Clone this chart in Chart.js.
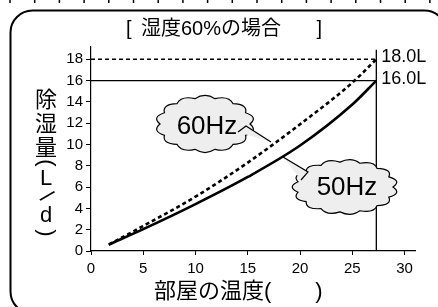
<!DOCTYPE html>
<html>
<head>
<meta charset="utf-8">
<script src="https://cdn.jsdelivr.net/npm/chart.js@4/dist/chart.umd.min.js"></script>
<style>
    body { margin: 0; background: #fff; }
    canvas { display: block; }
</style>
</head>
<body>
<canvas id="humid-chart" width="438" height="307"></canvas>
<script>
// room temperature (deg C) and dehumidifying amount (L/day)
var tempX = [1.7, 5, 10, 15, 20, 25, 27.3];
var dehum50 = [0.6, 2.05, 4.4, 6.95, 9.9, 13.75, 16.0];
var dehum60 = [0.6, 2.35, 5.1, 8.3, 11.9, 15.8, 18.0];

var maxTemp = 27.3;
var maxLines = [16, 18];
var maxLabels = ["16.0L", "18.0L"];

var xTicks = [0, 5, 10, 15, 20, 25, 30];
var yTicks = [0, 2, 4, 6, 8, 10, 12, 14, 16, 18];

var titleText = "湿度60%の場合";
var xTitle = "部屋の温度(　　)";
var yTitle = ["除", "湿", "量", "(", "L", "/", "d", ")"];

var FONT = '"Liberation Sans", Arial, "Noto Sans CJK JP"';

function toPoints(xs, ys) {
    return xs.map(function (x, i) { return { x: x, y: ys[i] }; });
}

function cloud(ctx, cx, cy, rx, ry, n, tail) {
    var pts = [];
    for (var i = 0; i <= n; i++) {
        var a = i / n * Math.PI * 2;
        pts.push([cx + rx * Math.cos(a), cy + ry * Math.sin(a)]);
    }
    ctx.save();
    ctx.lineWidth = 1.2;
    ctx.strokeStyle = "#000";
    ctx.fillStyle = "#eeeeee";
    ctx.beginPath();
    ctx.moveTo(pts[0][0], pts[0][1]);
    for (var j = 0; j < n; j++) {
        var am = (j + 0.5) / n * Math.PI * 2;
        var k = 1.22;
        ctx.quadraticCurveTo(cx + rx * k * Math.cos(am), cy + ry * k * Math.sin(am), pts[j + 1][0], pts[j + 1][1]);
    }
    ctx.closePath();
    ctx.fill();
    ctx.stroke();
    // tail
    ctx.beginPath();
    ctx.moveTo(tail[0][0], tail[0][1]);
    ctx.lineTo(tail[1][0], tail[1][1]);
    ctx.lineTo(tail[2][0], tail[2][1]);
    ctx.closePath();
    ctx.fill();
    ctx.beginPath();
    ctx.moveTo(tail[0][0], tail[0][1]);
    ctx.lineTo(tail[1][0], tail[1][1]);
    ctx.lineTo(tail[2][0], tail[2][1]);
    ctx.stroke();
    ctx.restore();
}

var decorations = {
    id: "decorations",
    beforeDraw: function (chart) {
        var ctx = chart.ctx;
        ctx.save();
        ctx.fillStyle = "#fff";
        ctx.fillRect(0, 0, chart.width, chart.height);
        // dotted marks along the top edge
        ctx.strokeStyle = "#000";
        ctx.lineWidth = 1.5;
        for (var x = 10; x < chart.width; x += 24.7) {
            ctx.beginPath();
            ctx.moveTo(x, 0);
            ctx.lineTo(x, 3);
            ctx.stroke();
        }
        // rounded frame
        ctx.lineWidth = 2;
        ctx.beginPath();
        ctx.roundRect(10.5, 10.5, 436, 303, 22);
        ctx.stroke();
        ctx.restore();
    },
    afterDatasetsDraw: function (chart) {
        var ctx = chart.ctx;
        var xs = chart.scales.x, ys = chart.scales.y;
        ctx.save();
        ctx.fillStyle = "#000";

        // title
        ctx.font = "20px " + FONT;
        ctx.textBaseline = "middle";
        ctx.textAlign = "left";
        ctx.fillText("[", 126, 29);
        ctx.fillText(titleText, 141, 29);
        ctx.textAlign = "right";
        ctx.fillText("]", 322, 29);

        // max value labels
        ctx.textAlign = "left";
        ctx.font = "18px " + FONT;
        maxLines.forEach(function (v, i) {
            ctx.fillText(maxLabels[i], xs.getPixelForValue(maxTemp) + 5, ys.getPixelForValue(v) - 2);
        });

        // x title
        ctx.font = "22px " + FONT;
        ctx.fillText(xTitle, 154, 292);

        // y title, stacked vertically
        ctx.textAlign = "center";
        var yPos = [101, 125, 149, 163, 179, 197, 216, 233];
        yTitle.forEach(function (ch, i) {
            ctx.save();
            ctx.translate(46, yPos[i]);
            if (ch === "(" || ch === ")") {
                ctx.rotate(Math.PI / 2);
            } else if (ch === "/") {
                ctx.rotate(Math.PI / 4);
            }
            ctx.font = "22px " + FONT;
            ctx.fillText(ch, 0, 0);
            ctx.restore();
        });

        // call-out clouds
        cloud(ctx, 205, 124, 45, 26, 14, [[238, 132], [246, 126], [271, 142]]);
        cloud(ctx, 345, 187, 48, 25, 15, [[301, 180], [308, 172], [283, 157]]);
        ctx.fillStyle = "#000";
        ctx.font = "26px " + FONT;
        ctx.textAlign = "center";
        ctx.fillText("60Hz", 207, 127);
        ctx.fillText("50Hz", 347, 188);
        ctx.restore();
    }
};

var thin = 1.3;

new Chart(document.getElementById("humid-chart"), {
    type: "scatter",
    data: {
        datasets: [
            {
                label: "50Hz",
                data: toPoints(tempX, dehum50),
                showLine: true,
                borderColor: "#000",
                borderWidth: 2.6,
                pointRadius: 0,
                cubicInterpolationMode: "monotone"
            },
            {
                label: "60Hz",
                data: toPoints(tempX, dehum60),
                showLine: true,
                borderColor: "#000",
                borderWidth: 2.6,
                borderDash: [4, 3],
                pointRadius: 0,
                cubicInterpolationMode: "monotone"
            },
            {
                label: "16L",
                data: [{ x: 0, y: maxLines[0] }, { x: maxTemp, y: maxLines[0] }],
                showLine: true,
                borderColor: "#000",
                borderWidth: thin,
                pointRadius: 0
            },
            {
                label: "18L",
                data: [{ x: 0, y: maxLines[1] }, { x: maxTemp, y: maxLines[1] }],
                showLine: true,
                borderColor: "#000",
                borderWidth: thin,
                borderDash: [4, 3],
                pointRadius: 0
            },
            {
                label: "limit",
                data: [{ x: maxTemp, y: 0 }, { x: maxTemp, y: 18.9 }],
                showLine: true,
                borderColor: "#000",
                borderWidth: thin,
                pointRadius: 0
            }
        ]
    },
    options: {
        responsive: false,
        animation: false,
        layout: { padding: { left: 0, right: 23, top: 47, bottom: 0 } },
        plugins: {
            legend: { display: false },
            tooltip: { enabled: false }
        },
        scales: {
            x: {
                type: "linear",
                min: 0,
                max: 31,
                afterFit: function (scale) { scale.height = 56; },
                afterBuildTicks: function (scale) {
                    scale.ticks = xTicks.map(function (v) { return { value: v }; });
                },
                grid: { drawOnChartArea: false, drawTicks: true, tickLength: 4, color: "#000" },
                border: { color: "#000", width: 1.2 },
                ticks: { color: "#000", padding: 5, font: { family: FONT, size: 15 } }
            },
            y: {
                type: "linear",
                min: 0,
                max: 19.15,
                afterFit: function (scale) { scale.width = 91; },
                afterBuildTicks: function (scale) {
                    scale.ticks = yTicks.map(function (v) { return { value: v }; });
                },
                grid: { drawOnChartArea: false, drawTicks: true, tickLength: 5, color: "#000" },
                border: { color: "#000", width: 1.2 },
                ticks: { color: "#000", padding: 3, font: { family: FONT, size: 15 } }
            }
        }
    },
    plugins: [decorations]
});
</script>
</body>
</html>
